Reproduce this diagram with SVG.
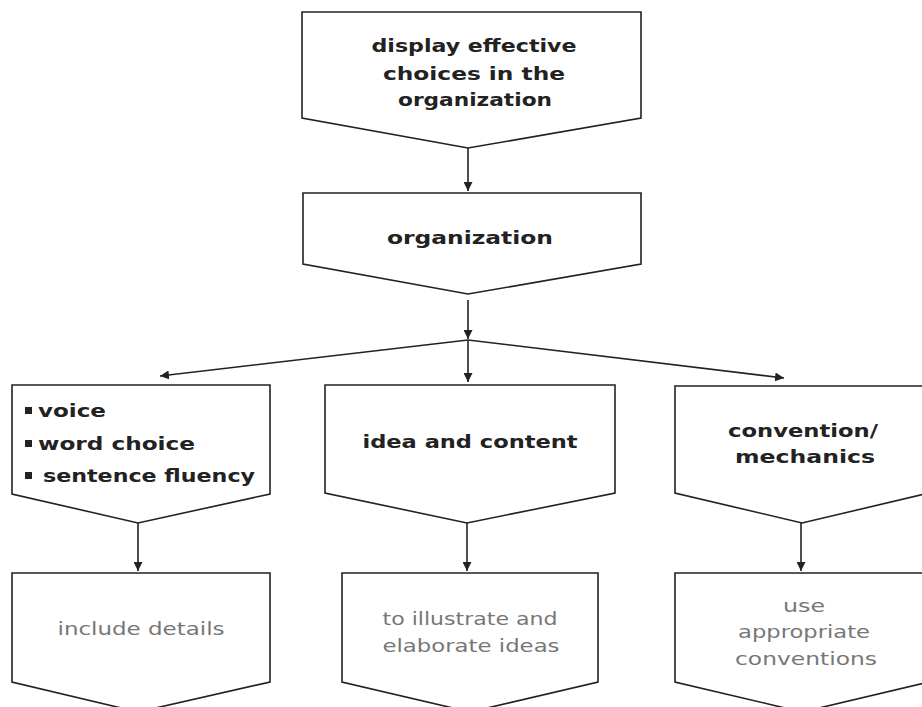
<svg xmlns="http://www.w3.org/2000/svg" width="922" height="707" viewBox="0 0 922 707">
<style>
.box{fill:#fff;stroke:#222;stroke-width:1.6;stroke-linejoin:miter}
.b{font-family:"DejaVu Sans",sans-serif;font-weight:bold;font-size:18px;fill:#222}
.g{font-family:"DejaVu Sans",sans-serif;font-size:17px;fill:#777}
.c{stroke:#222;stroke-width:1.6;fill:none}
</style>
<defs>
<marker id="ah" viewBox="0 0 10 10" refX="10" refY="5" markerWidth="9" markerHeight="9" markerUnits="userSpaceOnUse" orient="auto">
<path d="M0,0 L10,5 L0,10 z" fill="#222"/>
</marker>
</defs>
<rect width="922" height="707" fill="#fff"/>
<g id="connectors">
<line class="c" x1="468" y1="148" x2="468" y2="191" marker-end="url(#ah)"/>
<line class="c" x1="468" y1="300" x2="468" y2="339" marker-end="url(#ah)"/>
<line class="c" x1="468" y1="340" x2="160" y2="376" marker-end="url(#ah)"/>
<line class="c" x1="468" y1="340" x2="468" y2="382" marker-end="url(#ah)"/>
<line class="c" x1="468" y1="340" x2="784" y2="378" marker-end="url(#ah)"/>
<line class="c" x1="138" y1="523" x2="138" y2="571" marker-end="url(#ah)"/>
<line class="c" x1="467" y1="523" x2="467" y2="571" marker-end="url(#ah)"/>
<line class="c" x1="801" y1="523" x2="801" y2="571" marker-end="url(#ah)"/>
</g>
<g id="n-top">
<polygon class="box" points="302,12 641,12 641,118 468,148 302,118"/>
<text class="b" x="474" y="52" text-anchor="middle" textLength="205" lengthAdjust="spacingAndGlyphs">display effective</text>
<text class="b" x="474" y="80" text-anchor="middle" textLength="182" lengthAdjust="spacingAndGlyphs">choices in the</text>
<text class="b" x="475" y="106" text-anchor="middle" textLength="154" lengthAdjust="spacingAndGlyphs">organization</text>
</g>
<g id="n-organization">
<polygon class="box" points="303,193 641,193 641,264 468,294 303,264"/>
<text class="b" x="470" y="244" text-anchor="middle" textLength="166" lengthAdjust="spacingAndGlyphs">organization</text>
</g>
<g id="n-voice">
<polygon class="box" points="12,385 270,385 270,494 138,523 12,494"/>
<rect x="25" y="407" width="7" height="7" fill="#222"/>
<rect x="25" y="440" width="7" height="7" fill="#222"/>
<rect x="25" y="472" width="7" height="7" fill="#222"/>
<text class="b" x="38" y="417" textLength="68" lengthAdjust="spacingAndGlyphs">voice</text>
<text class="b" x="38" y="450" textLength="157" lengthAdjust="spacingAndGlyphs">word choice</text>
<text class="b" x="43" y="482" textLength="212" lengthAdjust="spacingAndGlyphs">sentence fluency</text>
</g>
<g id="n-idea">
<polygon class="box" points="325,385 615,385 615,493 467,523 325,493"/>
<text class="b" x="470" y="448" text-anchor="middle" textLength="215" lengthAdjust="spacingAndGlyphs">idea and content</text>
</g>
<g id="n-convention">
<polygon class="box" points="675,386 929,386 929,493 802,523 675,493"/>
<text class="b" x="803" y="437" text-anchor="middle" textLength="150" lengthAdjust="spacingAndGlyphs">convention/</text>
<text class="b" x="805" y="463" text-anchor="middle" textLength="140" lengthAdjust="spacingAndGlyphs">mechanics</text>
</g>
<g id="n-details">
<polygon class="box" points="12,573 270,573 270,682 138,712 12,682"/>
<text class="g" x="141" y="635" text-anchor="middle" textLength="167" lengthAdjust="spacingAndGlyphs">include details</text>
</g>
<g id="n-illustrate">
<polygon class="box" points="342,573 598,573 598,682 470,712 342,682"/>
<text class="g" x="470" y="625" text-anchor="middle" textLength="175" lengthAdjust="spacingAndGlyphs">to illustrate and</text>
<text class="g" x="471" y="652" text-anchor="middle" textLength="177" lengthAdjust="spacingAndGlyphs">elaborate ideas</text>
</g>
<g id="n-use">
<polygon class="box" points="675,573 929,573 929,682 802,712 675,682"/>
<text class="g" x="804" y="612" text-anchor="middle" textLength="42" lengthAdjust="spacingAndGlyphs">use</text>
<text class="g" x="804" y="638" text-anchor="middle" textLength="132" lengthAdjust="spacingAndGlyphs">appropriate</text>
<text class="g" x="806" y="665" text-anchor="middle" textLength="142" lengthAdjust="spacingAndGlyphs">conventions</text>
</g>
</svg>
